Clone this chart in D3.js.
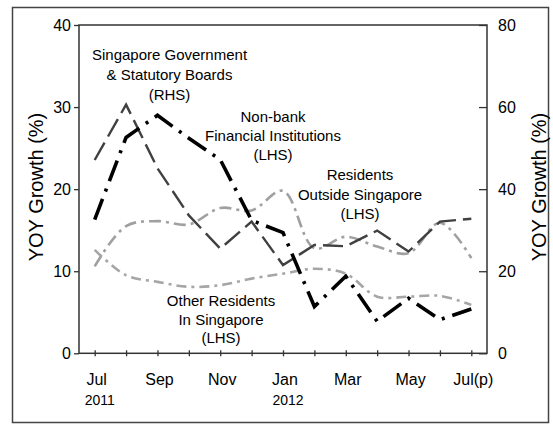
<!DOCTYPE html>
<html>
<head>
<meta charset="utf-8">
<script src="https://cdn.jsdelivr.net/npm/d3@7"></script>
<style>
  body { margin: 0; background: #fff; }
  svg text { font-family: Arial, "Liberation Sans", sans-serif; fill: #000; }
</style>
</head>
<body>
<svg id="chart"></svg>
<script>
// months on the x axis (Jul 2011 .. Jul 2012)
const months = ["Jul", "Aug", "Sep", "Oct", "Nov", "Dec", "Jan", "Feb", "Mar", "Apr", "May", "Jun", "Jul(p)"];
const labelledMonths = ["Jul", "Sep", "Nov", "Jan", "Mar", "May", "Jul(p)"];
const years = [["Jul", "2011"], ["Jan", "2012"]];

// series values, YOY growth (%)
const govBoards = [47.1, 60.6, 45.1, 33.6, 25.5, 32.1, 21.5, 26.4, 26.1, 29.9, 24.8, 32.1, 32.8]; // RHS
const nonBank = [16.3, 26.3, 29.0, 26.2, 23.6, 16.2, 14.7, 5.7, 9.4, 3.9, 6.7, 4.1, 5.4];
const residentsOutside = [10.6, 15.5, 16.1, 15.7, 17.7, 17.4, 19.8, 12.8, 14.2, 13.0, 12.2, 15.9, 11.6];
const otherResidents = [12.6, 9.5, 8.7, 8.1, 8.3, 9.1, 9.7, 10.3, 9.7, 6.9, 6.9, 7.0, 5.9];

const leftTicks = [0, 10, 20, 30, 40];
const rightTicks = [0, 20, 40, 60, 80];

const width = 553;
const height = 426;
const plot = { left: 79, right: 487, top: 25, bottom: 353.3 };

const svg = d3.select("#chart")
    .attr("width", width)
    .attr("height", height);

// outer frame
svg.append("rect")
    .attr("x", 12.5).attr("y", 7.5)
    .attr("width", 536).attr("height", 415)
    .attr("fill", "none")
    .attr("stroke", "#444")
    .attr("stroke-width", 1.5);

const x = d3.scalePoint()
    .domain(months)
    .range([plot.left, plot.right])
    .padding(0.5);

const yLeft = d3.scaleLinear().domain([0, 40]).range([plot.bottom, plot.top]);
const yRight = d3.scaleLinear().domain([0, 80]).range([plot.bottom, plot.top]);

// axes
const xAxis = svg.append("g")
    .attr("transform", `translate(0,${plot.bottom})`)
    .call(d3.axisBottom(x)
        .tickSizeInner(3).tickSizeOuter(0).tickPadding(17)
        .tickFormat(m => labelledMonths.includes(m) ? m : ""));
xAxis.selectAll(".tick line").attr("y1", -3).attr("y2", 3);
xAxis.selectAll(".tick text").attr("dx", 1.5);

const leftAxis = svg.append("g")
    .attr("transform", `translate(${plot.left},0)`)
    .call(d3.axisLeft(yLeft).tickValues(leftTicks).tickSize(5).tickPadding(3));

const rightAxis = svg.append("g")
    .attr("transform", `translate(${plot.right},0)`)
    .call(d3.axisRight(yRight).tickValues(rightTicks).tickSizeInner(-8).tickSizeOuter(0).tickPadding(11));

[xAxis, leftAxis, rightAxis].forEach(g => {
    g.select(".domain").remove();
    g.selectAll(".tick line").attr("stroke", "#333").attr("stroke-width", 1.3);
    g.selectAll("text").attr("font-size", 16).attr("fill", "#000")
        .attr("font-family", "Arial, 'Liberation Sans', sans-serif");
});

// plot box
svg.append("rect")
    .attr("x", plot.left).attr("y", plot.top)
    .attr("width", plot.right - plot.left)
    .attr("height", plot.bottom - plot.top)
    .attr("fill", "none")
    .attr("stroke", "#333")
    .attr("stroke-width", 1.5);

// year labels
svg.selectAll(".year")
    .data(years)
    .enter().append("text")
    .attr("class", "year")
    .attr("x", d => x(d[0]) + 5)
    .attr("y", 405)
    .attr("text-anchor", "middle")
    .attr("font-size", 14)
    .text(d => d[1]);

// axis titles
svg.append("text")
    .attr("transform", "translate(43,187) rotate(-90)")
    .attr("text-anchor", "middle")
    .attr("font-size", 20)
    .text("YOY Growth (%)");

svg.append("text")
    .attr("transform", "translate(546,187) rotate(-90)")
    .attr("text-anchor", "middle")
    .attr("font-size", 20)
    .text("YOY Growth (%)");

// lines
const series = [
    { values: otherResidents, y: yLeft, color: "#a6a6a6", w: 2.6, dash: "10,5,3,5", curve: d3.curveCatmullRom },
    { values: residentsOutside, y: yLeft, color: "#a0a0a0", w: 2.6, dash: "12,5,3,5", curve: d3.curveCatmullRom },
    { values: govBoards, y: yRight, color: "#404040", w: 2.4, dash: "20,7", curve: d3.curveLinear },
    { values: nonBank, y: yLeft, color: "#000", w: 3.6, dash: "22,8,3,8", curve: d3.curveLinear }
];

series.forEach(s => {
    const line = d3.line()
        .x((d, i) => x(months[i]))
        .y(d => s.y(d))
        .curve(s.curve);
    svg.append("path")
        .datum(s.values)
        .attr("d", line)
        .attr("fill", "none")
        .attr("stroke", s.color)
        .attr("stroke-width", s.w)
        .attr("stroke-dasharray", s.dash);
});

// series annotations
const notes = [
    { x: 169.5, ys: [60, 80, 100], lines: ["Singapore Government", "& Statutory Boards", "(RHS)"] },
    { x: 273, ys: [121.5, 140.5, 159.5], lines: ["Non-bank", "Financial Institutions", "(LHS)"] },
    { x: 360, ys: [180, 200, 219], lines: ["Residents", "Outside Singapore", "(LHS)"] },
    { x: 221, ys: [306, 324.5, 343], lines: ["Other Residents", "In Singapore", "(LHS)"] }
];

notes.forEach(n => {
    n.lines.forEach((t, i) => {
        svg.append("text")
            .attr("x", n.x)
            .attr("y", n.ys[i])
            .attr("text-anchor", "middle")
            .attr("font-size", 15)
            .text(t);
    });
});
</script>
</body>
</html>
